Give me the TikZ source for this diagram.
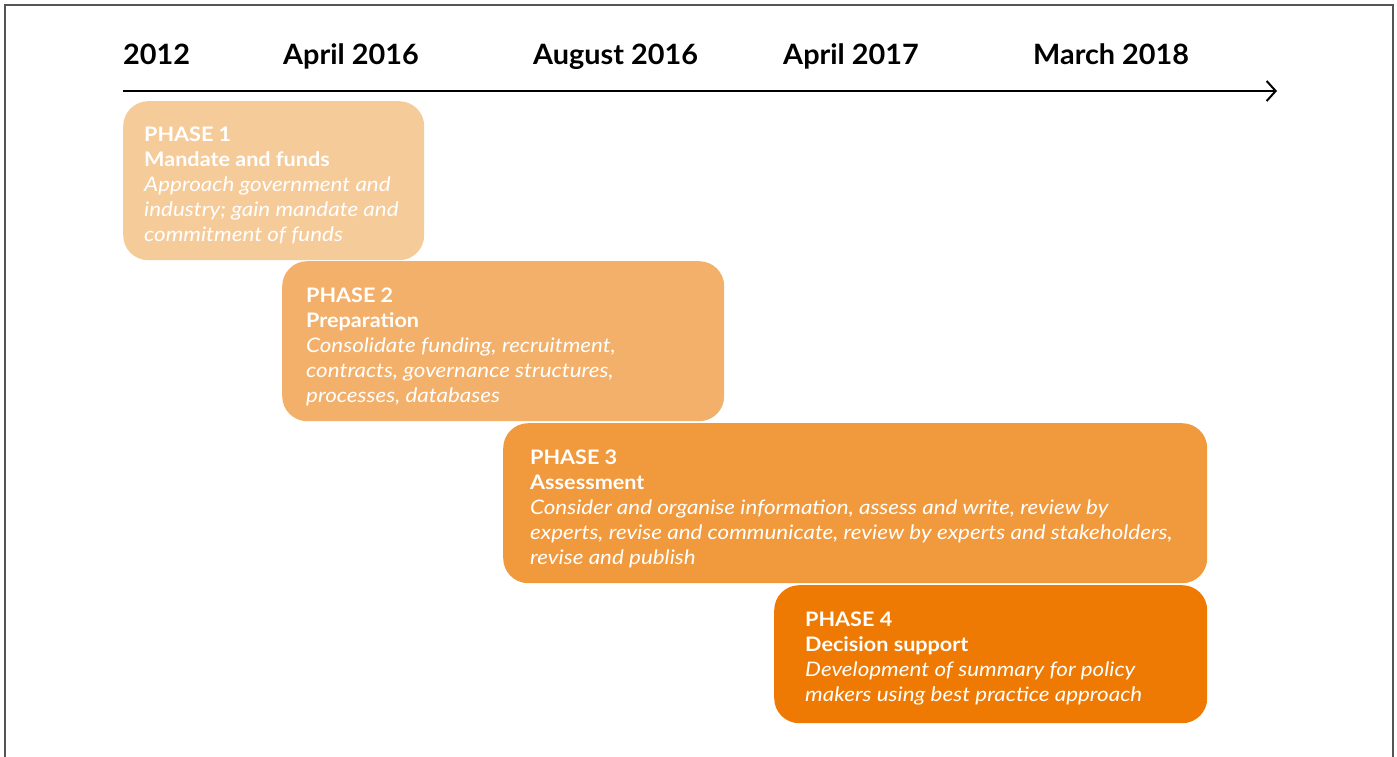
\documentclass[tikz,border=0pt]{standalone}
\usepackage{fontspec}
\setmainfont{Lato}
\newfontfamily\titlefont[FakeStretch=1.08]{Lato}
\newfontfamily\descfont[FakeStretch=1.12]{Lato}
\newfontfamily\yearfont[FakeStretch=1.03]{Lato}
\usepackage{tikz}
\usetikzlibrary{arrows,arrows.meta,positioning}
\definecolor{phaseA}{HTML}{F6CB9A}
\definecolor{phaseB}{HTML}{F3B06A}
\definecolor{phaseC}{HTML}{F1993D}
\definecolor{phaseD}{HTML}{EE7A03}
\definecolor{frame}{HTML}{555555}
\newcommand{\ptitle}[1]{{\titlefont\bfseries #1}}
\newcommand{\pdesc}[1]{{\descfont\itshape #1}}
\tikzstyle{phase} = [rounded corners=25pt, inner sep=0pt, anchor=north west]
\tikzstyle{phasetext} = [text=white, align=left, anchor=north west, inner sep=0pt, font=\fontsize{20}{25}\selectfont]
\tikzstyle{year} = [anchor=base west, inner sep=0pt, font=\fontsize{28}{34}\selectfont\yearfont\bfseries]

\begin{document}
\begin{tikzpicture}[x=1pt, y=-1pt]
        \useasboundingbox (0,0) rectangle (1397,757);
        \draw[frame, line width=1.5pt] (5,757) -- (5,5) -- (1393,5) -- (1393,757);
        % time axis
        \coordinate (start) at (123,91);
        \coordinate (end) at (1277,91);
        \draw[line width=2pt, -{Straight Barb[length=9pt,width=20pt]}] (start) -- (end);
        \foreach \x/\lbl [count=\i] in {123/2012, 283/April 2016, 533/August 2016, 783/April 2017, 1033/March 2018}{
            \node[year] (y\i) at (\x,65) {\lbl};
        }
        % phases
        \node[phase, fill=phaseA, minimum width=301pt, minimum height=159pt] (p1) at (123,101) {};
        \node[phase, fill=phaseB, minimum width=442pt, minimum height=160pt] (p2) at (282,261) {};
        \node[phase, fill=phaseC, minimum width=704pt, minimum height=160pt] (p3) at (503,423) {};
        \node[phase, fill=phaseD, minimum width=433pt, minimum height=138pt] (p4) at (774,585) {};
        \node[phasetext] (t1) at (144,127) {\ptitle{PHASE 1}\\ \ptitle{Mandate and funds}\\
            \pdesc{Approach government and}\\ \pdesc{industry; gain mandate and}\\ \pdesc{commitment of funds}};
        \node[phasetext] (t2) at (306,288) {\ptitle{PHASE 2}\\ \ptitle{Preparation}\\
            \pdesc{Consolidate funding, recruitment,}\\ \pdesc{contracts, governance structures,}\\ \pdesc{processes, databases}};
        \node[phasetext] (t3) at (530,450) {\ptitle{PHASE 3}\\ \ptitle{Assessment}\\
            \pdesc{Consider and organise information, assess and write, review by}\\
            \pdesc{experts, revise and communicate, review by experts and stakeholders,}\\
            \pdesc{revise and publish}};
        \node[phasetext] (t4) at (805,612) {\ptitle{PHASE 4}\\ \ptitle{Decision support}\\
            \pdesc{Development of summary for policy}\\ \pdesc{makers using best practice approach}};
    \end{tikzpicture}
\end{document}
